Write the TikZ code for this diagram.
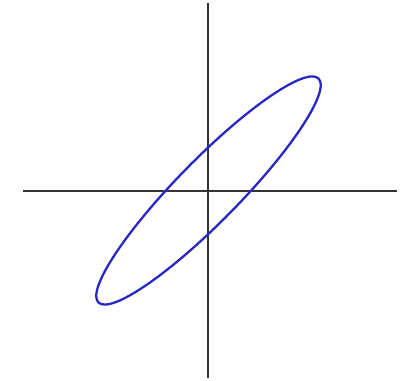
\documentclass[tikz,border=0pt]{standalone}
\begin{document}
\begin{tikzpicture}[x=1pt,y=1pt,
  axis/.style={draw=black!80, line width=2pt},
  curve/.style={draw={rgb,255:red,40;green,40;blue,195}, line width=2.3pt}]
\useasboundingbox (0,0) rectangle (400,381);
\coordinate (O) at (208.5,190.5);
\coordinate (top) at (208,378);
\coordinate (bot) at (208,3);
\coordinate (left) at (22.5,190);
\coordinate (right) at (396.5,190);
\draw[axis] (top) -- (bot);
\draw[axis] (left) -- (right);
\draw[curve, shift={(O)}, rotate=45.5] (0,0) ellipse [x radius=157, y radius=31];
\end{tikzpicture}
\end{document}
